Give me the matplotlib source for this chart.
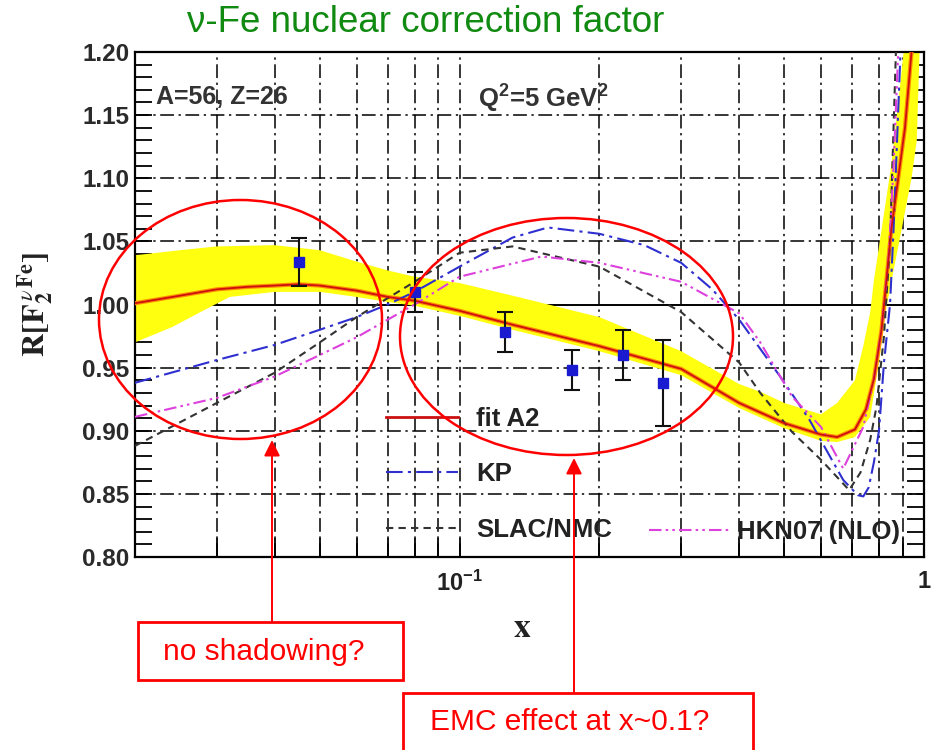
import matplotlib
matplotlib.use("Agg")
import matplotlib.pyplot as plt
from matplotlib.patches import Ellipse, Rectangle, FancyArrowPatch
from matplotlib.lines import Line2D
from matplotlib.ticker import FixedLocator, FixedFormatter, NullFormatter, MultipleLocator

plt.rcParams['font.family'] = ['Liberation Sans', 'DejaVu Sans']
plt.rcParams['mathtext.fontset'] = 'custom'
plt.rcParams['mathtext.bf'] = 'Liberation Sans:bold'
plt.rcParams['mathtext.rm'] = 'Liberation Sans'

# fit A2 curve and its uncertainty band
fit_x = [0.02, 0.025, 0.03, 0.035, 0.04, 0.045, 0.05, 0.06, 0.07, 0.08, 0.1, 0.13, 0.2, 0.3,
         0.4, 0.5, 0.6, 0.65, 0.71, 0.75, 0.78, 0.81, 0.83, 0.85, 0.88, 0.91, 0.94]
fit_r = [1.001, 1.007, 1.012, 1.014, 1.015, 1.016, 1.015, 1.011, 1.006, 1.003, 0.995, 0.984, 0.967, 0.949,
         0.922, 0.906, 0.897, 0.895, 0.901, 0.917, 0.941, 0.980, 1.019, 1.059, 1.100, 1.140, 1.200]
band_hi_x = [0.02, 0.025, 0.03, 0.04, 0.05, 0.06, 0.07, 0.08, 0.1, 0.13, 0.2, 0.3, 0.4, 0.45,
             0.5, 0.6, 0.65, 0.71, 0.74, 0.766, 0.78, 0.81, 0.85, 0.88, 0.91]
band_hi = [1.039, 1.043, 1.046, 1.047, 1.043, 1.034, 1.027, 1.022, 1.017, 1.007, 0.990, 0.963, 0.937, 0.930,
           0.922, 0.913, 0.922, 0.940, 0.967, 0.994, 1.019, 1.059, 1.110, 1.160, 1.210]
band_lo_x = [0.02, 0.024, 0.028, 0.032, 0.04, 0.05, 0.06, 0.07, 0.08, 0.1, 0.13, 0.2, 0.3, 0.4,
             0.5, 0.6, 0.65, 0.71, 0.766, 0.80, 0.83, 0.89, 0.94, 0.965, 0.98]
band_lo = [0.970, 0.982, 0.995, 1.006, 1.010, 1.010, 1.006, 1.002, 0.999, 0.991, 0.980, 0.963, 0.944, 0.918,
           0.902, 0.892, 0.891, 0.895, 0.911, 0.954, 0.998, 1.055, 1.100, 1.130, 1.210]

# KP
kp_x = [0.02, 0.03, 0.04, 0.05, 0.06, 0.07, 0.08, 0.1, 0.13, 0.155, 0.2, 0.25, 0.3, 0.35, 0.4, 0.49,
        0.566, 0.62, 0.67, 0.72, 0.74, 0.76, 0.78, 0.80, 0.82, 0.845, 0.86, 0.875, 0.89]
kp_r = [0.938, 0.956, 0.968, 0.980, 0.990, 1.000, 1.010, 1.030, 1.053, 1.061, 1.056, 1.047, 1.033, 1.012, 0.988, 0.943,
        0.909, 0.883, 0.861, 0.849, 0.848, 0.855, 0.875, 0.900, 0.954, 1.000, 1.060, 1.130, 1.200]

# SLAC/NMC
slac_x = [0.02, 0.03, 0.04, 0.05, 0.06, 0.07, 0.08, 0.1, 0.13, 0.2, 0.3, 0.4, 0.444, 0.52, 0.6, 0.69,
          0.73, 0.766, 0.79, 0.82, 0.845, 0.87]
slac_r = [0.888, 0.922, 0.946, 0.970, 0.990, 1.005, 1.018, 1.041, 1.046, 1.030, 0.994, 0.954, 0.930, 0.899, 0.877, 0.853,
          0.867, 0.893, 0.919, 0.975, 1.050, 1.200]

# HKN07 (NLO)
hkn_x = [0.02, 0.03, 0.04, 0.05, 0.06, 0.07, 0.08, 0.1, 0.15, 0.2, 0.3, 0.4, 0.444, 0.52, 0.6, 0.67,
         0.74, 0.78, 0.81, 0.84, 0.86, 0.88]
hkn_r = [0.911, 0.926, 0.943, 0.960, 0.974, 0.988, 1.000, 1.022, 1.038, 1.033, 1.018, 0.993, 0.970, 0.927, 0.903, 0.870,
         0.903, 0.941, 0.980, 1.040, 1.110, 1.200]

# nu-Fe data points
pts_x = [0.045, 0.080, 0.125, 0.175, 0.225, 0.274]
pts_r = [1.034, 1.010, 0.978, 0.948, 0.960, 0.938]
pts_err = [0.019, 0.016, 0.016, 0.016, 0.020, 0.034]

W, H = 933, 750
fig = plt.figure(figsize=(W / 100, H / 100), dpi=100)
ax = fig.add_axes([135 / W, 1 - 557 / H, (924 - 135) / W, (557 - 52) / H])
ax.set_xscale('log')
ax.set_xlim(0.02, 1.0)
ax.set_ylim(0.80, 1.20)

# grid
grid_style = (0, (9, 3, 1.5, 3))
for gx in [0.03, 0.04, 0.05, 0.06, 0.07, 0.08, 0.09, 0.1, 0.2, 0.3, 0.4, 0.5, 0.6, 0.7, 0.8, 0.9]:
    ax.axvline(gx, color='black', lw=1.1, ls=grid_style, zorder=1)
for gy in [0.85, 0.90, 0.95, 1.05, 1.10, 1.15]:
    ax.axhline(gy, color='black', lw=1.1, ls=grid_style, zorder=1)
ax.axhline(1.0, color='black', lw=1.4, zorder=1)

# band + fit
band_px = band_hi_x + band_lo_x[::-1]
band_py = band_hi + band_lo[::-1]
ax.fill(band_px, band_py, color='#ffff10', lw=0, zorder=2)
ax.plot(fit_x, fit_r, color='#ff8a00', lw=3.0, zorder=3, solid_capstyle='round', solid_joinstyle='round')
ax.plot(fit_x, fit_r, color='#cc1010', lw=1.3, zorder=4, solid_joinstyle='round')

kp_ls = (0, (8, 2.5, 1.5, 2.5))
slac_ls = (0, (3.5, 2.5))
hkn_ls = (0, (6, 2, 1.2, 2, 1.2, 2))
ax.plot(kp_x, kp_r, color='#2f2fd0', lw=1.5, ls=kp_ls, zorder=3)
ax.plot(slac_x, slac_r, color='#333333', lw=1.5, ls=slac_ls, zorder=3)
ax.plot(hkn_x, hkn_r, color='#dd40dd', lw=1.5, ls=hkn_ls, zorder=3)

ax.errorbar(pts_x, pts_r, yerr=pts_err, fmt='s', ms=6.5, mfc='#1a1ad0', mec='#1a1ad0',
            ecolor='#111111', elinewidth=1.5, capsize=6, capthick=1.5, zorder=5)

# axes styling
for s in ax.spines.values():
    s.set_linewidth(1.6)
ax.xaxis.set_major_locator(FixedLocator([0.1, 1.0]))
ax.xaxis.set_major_formatter(FixedFormatter([r'$\mathbf{10^{-1}}$', r'$\mathbf{1}$']))
ax.xaxis.set_minor_locator(FixedLocator([0.02, 0.03, 0.04, 0.05, 0.06, 0.07, 0.08, 0.09,
                                         0.2, 0.3, 0.4, 0.5, 0.6, 0.7, 0.8, 0.9]))
ax.xaxis.set_minor_formatter(NullFormatter())
ax.yaxis.set_minor_locator(MultipleLocator(0.01))
ax.tick_params(axis='x', which='both', direction='in', top=False, length=14, width=1.3,
               labelsize=17, pad=10, labelcolor='#222222')
ax.tick_params(axis='y', which='both', direction='in', left=True, right=True, length=12, width=1.3)
ax.tick_params(axis='y', which='major', labelsize=17.5, pad=4, labelcolor='#2a2a2a')
y_ticks = [0.80, 0.85, 0.90, 0.95, 1.00, 1.05, 1.10, 1.15, 1.20]
ax.yaxis.set_major_locator(FixedLocator(y_ticks))
ax.yaxis.set_major_formatter(FixedFormatter(['%.2f' % v for v in y_ticks]))
for lab in ax.get_yticklabels():
    lab.set_fontweight('bold')

ax.set_xlabel(r'$\mathbf{x}$', fontsize=24, color='#222222', math_fontfamily='stix')
ax.xaxis.set_label_coords(0.49, -0.11)
ax.set_ylabel(r'$\mathbf{R[F}_{\mathbf{2}}^{\,\nu\,\mathbf{Fe}}\mathbf{]}$', fontsize=23,
              color='#222222', math_fontfamily='stix')
ax.yaxis.set_label_coords(-0.10, 0.5)

ax.text(0.026, 0.91, 'A=56, Z=26', transform=ax.transAxes, fontsize=18, fontweight='bold',
        color='#333333', va='center')
ax.text(0.435, 0.91, r'Q$^{\mathbf{2}}$=5 GeV$^{\mathbf{2}}$', transform=ax.transAxes, fontsize=18.5,
        fontweight='bold', color='#333333', va='center')

# legends
h_fit = Line2D([], [], color='#cc1010', lw=2)
h_kp = Line2D([], [], color='#2f2fd0', lw=1.5, ls=kp_ls)
h_slac = Line2D([], [], color='#333333', lw=1.5, ls=slac_ls)
h_hkn = Line2D([], [], color='#dd40dd', lw=1.5, ls=hkn_ls)
leg1 = ax.legend([h_fit, h_kp, h_slac], ['fit A2', 'KP', 'SLAC/NMC'], loc='upper left',
                 bbox_to_anchor=(0.318, 0.297), frameon=False, borderpad=0, borderaxespad=0,
                 handlelength=2.8, handletextpad=0.7, labelspacing=1.22,
                 prop={'size': 18.5, 'weight': 'bold'})
for t in leg1.get_texts():
    t.set_color('#222222')
ax.add_artist(leg1)
leg2 = ax.legend([h_hkn], ['HKN07 (NLO)'], loc='upper left', bbox_to_anchor=(0.652, 0.073),
                 frameon=False, borderpad=0, borderaxespad=0, handlelength=3.1, handletextpad=0.3,
                 prop={'size': 18.5, 'weight': 'bold'})
for t in leg2.get_texts():
    t.set_color('#222222')

# title
fig.text(426 / W, 1 - 23 / H, '\u03bd-Fe nuclear correction factor', fontsize=26.5, color='#118a11',
         ha='center', va='center')


# annotations in pixel layout
def fx(px):
    return px / W


def fy(py):
    return 1 - py / H


red = '#ff0000'
fig.add_artist(Ellipse((fx(240.5), fy(319.5)), 283 / W, 239 / H, transform=fig.transFigure,
                       fill=False, ec=red, lw=1.8, zorder=10))
fig.add_artist(Ellipse((fx(566.5), fy(336.5)), 333 / W, 237 / H, transform=fig.transFigure,
                       fill=False, ec=red, lw=1.8, zorder=10))
fig.add_artist(FancyArrowPatch((fx(272), fy(622)), (fx(272), fy(440)), transform=fig.transFigure,
                               arrowstyle='-|>', mutation_scale=24, color=red, lw=1.4,
                               shrinkA=0, shrinkB=0, zorder=10))
fig.add_artist(FancyArrowPatch((fx(574), fy(693)), (fx(574), fy(458)), transform=fig.transFigure,
                               arrowstyle='-|>', mutation_scale=24, color=red, lw=1.4,
                               shrinkA=0, shrinkB=0, zorder=10))
fig.add_artist(Rectangle((fx(138), fy(680)), (403 - 138) / W, 58 / H, transform=fig.transFigure,
                         fill=True, fc='white', ec=red, lw=2, zorder=10))
fig.add_artist(Rectangle((fx(403), fy(760)), (753 - 403) / W, 67 / H, transform=fig.transFigure,
                         fill=True, fc='white', ec=red, lw=2, zorder=10))
fig.text(fx(264), fy(652), 'no shadowing?', fontsize=21.5, color=red, ha='center', va='center', zorder=11)
fig.text(fx(570), fy(722), 'EMC effect at x~0.1?', fontsize=21.5, color=red, ha='center', va='center',
         zorder=11)

fig.savefig('out.png', dpi=100)
